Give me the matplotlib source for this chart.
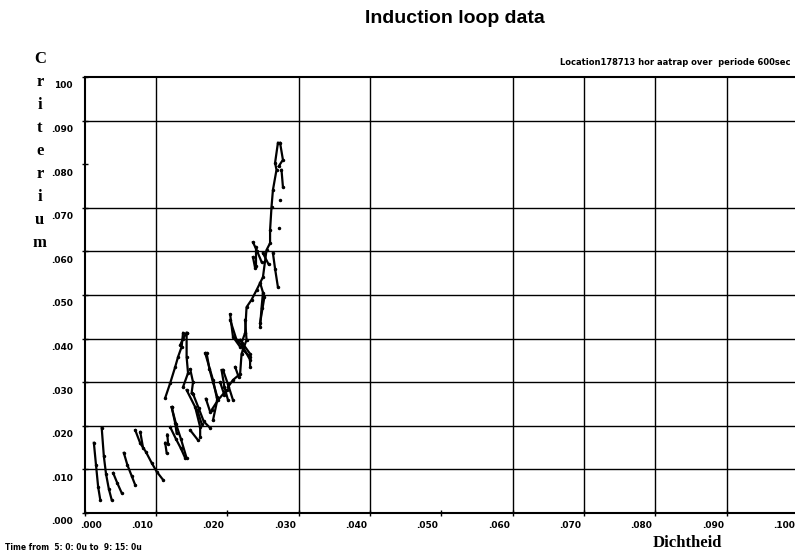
import matplotlib.pyplot as plt
import matplotlib.transforms as mtransforms

# streaks of loop data (dichtheid, criterium)
streak_x = [
    [.0013, .0016, .0019, .0022],
    [.0024, .0027, .0030, .0034, .0038],
    [.0040, .0046, .0052],
    [.0055, .0060, .0066, .0071],
    [.0071, .0078, .0086, .0094, .0101, .0110],
    [.0078, .0082],
    [.0113, .0115],
    [.0120, .0128, .0135, .0141],
    [.0113, .0120, .0127, .0131, .0136, .0138],
    [.0134, .0138, .0143],
    [.0143, .0143, .0145, .0138],
    [.0122, .0127, .0129],
    [.0122, .0128, .0135, .0143],
    [.0116, .0117],
    [.0148, .0159],
    [.0171, .0175, .0180, .0186],
    [.0143, .0155, .0162, .0162],
    [.0152, .0160, .0167, .0176],
    [.0169, .0180, .0186, .0180],
    [.0192, .0196, .0201],
    [.0178, .0187, .0199],
    [.0194, .0201, .0208],
    [.0201, .0208, .0218, .0220, .0227, .0225],
    [.0218, .0232, .0232],
    [.0204, .0213, .0222, .0232],
    [.0204, .0208, .0218],
    [.0232, .0222, .0220, .0225, .0227, .0234, .0241, .0250, .0255, .0260, .0260,
     .0262, .0264, .0269, .0267, .0271],
    [.0264, .0267, .0271],
    [.0246, .0252, .0246],
    [.0250, .0248, .0246],
    [.0236, .0242, .0248],
    [.0240, .0240],
    [.0274, .0278, .0272],
    [.0276, .0278],
    [.0274],
    [.0272],
    [.0250, .0258],
    [.0211, .0216],
    [.0190, .0196],
    [.0158, .0164],
    [.0170, .0176],
    [.0236, .0239],
    [.0148, .0152, .0150],
]
streak_y = [
    [.0161, .0110, .0060, .0030],
    [.0195, .0130, .0090, .0055, .0030],
    [.0092, .0068, .0046],
    [.0138, .0110, .0085, .0064],
    [.0190, .0160, .0140, .0115, .0095, .0076],
    [.0186, .0149],
    [.0161, .0138],
    [.0197, .0170, .0148, .0126],
    [.0264, .0298, .0335, .0358, .0381, .0413],
    [.0385, .0400, .0413],
    [.0413, .0358, .0321, .0289],
    [.0243, .0206, .0183],
    [.0243, .0205, .0170, .0126],
    [.0180, .0159],
    [.0190, .0167],
    [.0367, .0330, .0300, .0266],
    [.0282, .0243, .0197, .0174],
    [.0273, .0240, .0210, .0195],
    [.0367, .0305, .0259, .0213],
    [.0328, .0289, .0259],
    [.0236, .0259, .0282],
    [.0328, .0295, .0259],
    [.0289, .0305, .0319, .0365, .0397, .0443],
    [.0397, .0365, .0335],
    [.0443, .0397, .0381, .0351],
    [.0456, .0404, .0381],
    [.0358, .0374, .0390, .0413, .0472, .0489, .0511, .0541, .0603, .0619, .0649,
     .0702, .0741, .0787, .0803, .0849],
    [.0596, .0560, .0518],
    [.0528, .0495, .0436],
    [.0505, .0470, .0427],
    [.0621, .0600, .0576],
    [.0610, .0567],
    [.0849, .0810, .0795],
    [.0787, .0748],
    [.0718],
    [.0654],
    [.0596, .0570],
    [.0335, .0312],
    [.0300, .0270],
    [.0236, .0205],
    [.0262, .0232],
    [.0587, .0562],
    [.0330, .0300, .0275],
]

x_ticks = [.000, .010, .020, .030, .040, .050, .060, .070, .080, .090, .100]
x_labels = ['.000', '.010', '.020', '.030', '.040', '.050', '.060', '.070', '.080', '.090', '.100']
y_ticks = [.000, .010, .020, .030, .040, .050, .060, .070, .080, .090, .100]
y_labels = ['.000', '.010', '.020', '.030', '.040', '.050', '.060', '.070', '.080', '.090', '100']
x_grid = [.010, .030, .040, .060, .070, .080, .090]
y_grid = [.010, .020, .030, .040, .050, .060, .070, .090]

fig = plt.figure(figsize=(7.95, 5.55), dpi=100)
ax = fig.add_axes([0.1064, 0.0757, 0.8974, 0.7856])

for xs, ys in zip(streak_x, streak_y):
    ax.plot(xs, ys, color='black', lw=1.6, marker='.', ms=3)

for g in x_grid:
    ax.axvline(g, color='black', lw=1.0, zorder=0)
for g in y_grid:
    ax.axhline(g, color='black', lw=1.0, zorder=0)

ax.set_xlim(0, 0.1)
ax.set_ylim(0, 0.1)
for s in ['left', 'bottom', 'top']:
    ax.spines[s].set_linewidth(1.5)
ax.spines['right'].set_visible(False)

ax.set_xticks(x_ticks)
ax.set_xticklabels(x_labels, fontsize=6.5, fontweight='bold')
ax.set_yticks(y_ticks)
ax.set_yticklabels(y_labels, fontsize=6.5, fontweight='bold')
ax.tick_params(axis='both', direction='inout', length=5, width=1)
ax.tick_params(axis='x', pad=3)
ax.tick_params(axis='y', pad=6)

# labels sit a bit left of / below their tick (first x label nudged right)
for i, lab in enumerate(ax.get_xticklabels()):
    shift = 6 if i == 0 else -14
    dx = mtransforms.ScaledTranslation(shift / 100, 0, fig.dpi_scale_trans)
    lab.set_transform(lab.get_transform() + dx)
dy = mtransforms.ScaledTranslation(0, -8 / 100, fig.dpi_scale_trans)
for lab in ax.get_yticklabels():
    lab.set_transform(lab.get_transform() + dy)

fig.text(0.572, 0.967, 'Induction loop data', ha='center', va='center',
         fontsize=14, fontweight='bold', family='Liberation Sans')
fig.text(0.994, 0.888, 'Location178713 hor aatrap over  periode 600sec', ha='right',
         va='center', fontsize=6, fontweight='bold')
fig.text(0.006, 0.014, 'Time from  5: 0: 0u to  9: 15: 0u', ha='left', va='center',
         fontsize=5.5, fontweight='bold')
fig.text(0.05, 0.908, 'C\nr\ni\nt\ne\nr\ni\nu\nm', ha='center', va='top',
         fontsize=12, fontweight='bold', family='Liberation Serif', linespacing=1.58)
fig.text(0.865, 0.022, 'Dichtheid', ha='center', va='center',
         fontsize=12, fontweight='bold', family='Liberation Serif')

fig.savefig('out.png', dpi=100)
